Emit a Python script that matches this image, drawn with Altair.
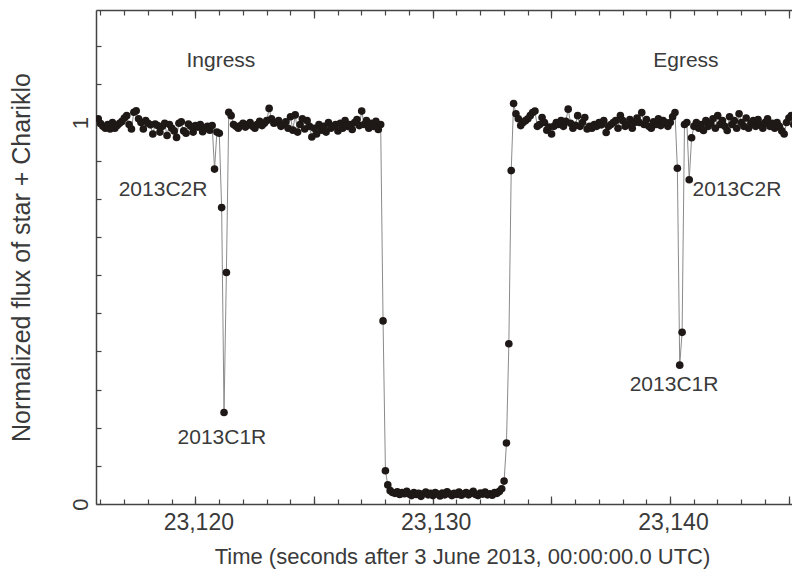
import altair as alt
import pandas as pd

# ---------------- data (10 Hz photometry) ----------------
T0 = 23115.91          # time of first sample (s after 3 June 2013 00:00:00 UTC)
DT = 0.1               # sampling interval (s)

flux_pre_ingress = [1.01, 0.997, 0.99, 0.985, 0.995, 0.983, 1.0, 0.985, 0.992, 0.998,
                    1.003, 1.012, 1.018, 0.995, 0.983, 1.027, 1.031, 1.01, 1.0, 0.983,
                    1.005, 0.998, 0.994, 0.97, 0.996, 0.992, 0.975, 0.99, 0.998, 0.966,
                    0.995, 0.985, 0.978, 0.961, 0.998, 1.002, 0.978, 0.972, 0.996, 0.99,
                    0.975, 0.992, 0.988, 0.995, 0.976, 0.985, 0.99, 0.98, 0.992]
flux_rings_ingress = [0.878, 0.975, 0.972, 0.777, 0.24, 0.607, 1.027, 1.018]
flux_between = [0.995, 0.99, 0.985, 0.992, 0.998, 0.988, 0.995, 1.0, 0.99, 0.985,
                0.995, 1.003, 0.992, 0.998, 1.005, 1.037, 1.01, 0.998, 1.0, 1.005,
                0.99, 0.995, 1.002, 0.985, 1.015, 0.98, 1.02, 0.975, 0.995, 1.01,
                0.983, 1.005, 0.99, 0.962, 0.985, 0.97, 0.995, 0.98, 0.99, 0.975,
                1.0, 0.985, 0.99, 0.995, 0.978, 0.998, 0.985, 1.005, 0.99, 0.995,
                0.982, 1.0, 1.008, 0.992, 1.03, 0.995, 1.005, 0.985, 0.998, 0.99,
                1.003, 0.982]
flux_body_ingress = [0.995, 0.48, 0.087]
flux_occulted = [0.05, 0.035, 0.03, 0.028, 0.032, 0.025, 0.03, 0.027, 0.033, 0.026,
                 0.022, 0.03, 0.025, 0.028, 0.02, 0.027, 0.031, 0.024, 0.028, 0.022,
                 0.03, 0.026, 0.021, 0.029, 0.024, 0.032, 0.027, 0.022, 0.028, 0.025,
                 0.031, 0.023, 0.027, 0.03, 0.024, 0.028, 0.033, 0.025, 0.022, 0.029,
                 0.026, 0.031, 0.024, 0.027, 0.023, 0.03, 0.028, 0.033, 0.04]
flux_body_egress = [0.06, 0.16, 0.42, 0.874, 1.05]
flux_post_egress = [1.023, 1.01, 0.992, 1.0, 1.005, 1.01, 1.018, 1.026, 1.03, 0.99,
                    0.995, 1.013, 1.0, 0.98, 0.988, 0.97, 0.99, 1.0, 0.995, 1.005,
                    0.99, 1.003, 1.035, 0.998, 0.985, 0.993, 1.018, 0.99, 1.0, 1.013,
                    0.983, 0.99, 0.985, 0.995, 0.99, 1.0, 0.994, 1.005, 0.974, 0.99,
                    0.995, 1.0, 1.005, 0.985, 1.018, 1.005, 0.99, 0.995, 1.008, 0.985,
                    1.0, 1.012, 1.0, 1.026, 0.995, 1.008, 0.99, 0.985, 1.002, 0.995,
                    1.01, 0.992, 1.005, 1.0, 0.99, 1.0, 1.015, 1.026]
flux_rings_egress = [0.88, 0.364, 0.45, 0.995, 1.0, 0.85, 0.96]
flux_after = [0.99, 1.0, 0.985, 0.995, 0.979, 1.005, 0.99, 0.998, 1.01, 0.985,
              1.018, 0.995, 1.005, 0.99, 0.979, 1.015, 0.995, 1.005, 0.985, 1.023,
              1.0, 0.99, 1.012, 0.985, 0.998, 1.005, 0.99, 1.008, 0.995, 0.985,
              1.0, 1.01, 0.99, 0.998, 0.985, 1.0, 0.99, 0.978, 0.97, 1.0,
              1.012, 1.018, 0.995, 1.005, 1.01]

flux = (flux_pre_ingress + flux_rings_ingress + flux_between + flux_body_ingress +
        flux_occulted + flux_body_egress + flux_post_egress + flux_rings_egress + flux_after)
time = [round(T0 + DT * i, 2) for i in range(len(flux))]

ann_text = ["Ingress", "Egress", "2013C2R", "2013C1R", "2013C2R", "2013C1R"]
ann_time = [23121.08, 23140.67, 23118.64, 23121.12, 23142.82, 23140.17]
ann_flux = [1.16, 1.16, 0.822, 0.174, 0.822, 0.311]

x_ticks_labelled = [23120, 23130, 23140]
x_ticks_major = [23120, 23125, 23130, 23135, 23140, 23145]
x_ticks_minor = list(range(23116, 23146))
y_ticks_labelled = [0, 1]
y_ticks_minor = [0, 0.1, 0.2, 0.3, 0.4, 0.5, 0.6, 0.7, 0.8, 0.9, 1.0, 1.1, 1.2]

X_DOMAIN = [23115.816, 23145.14]
Y_DOMAIN = [0, 1.295]

df = pd.DataFrame({"time": time, "flux": flux})
ann = pd.DataFrame({"text": ann_text, "time": ann_time, "flux": ann_flux})

# ---------------- chart ----------------
W, H = 696, 494
FONT = "Liberation Sans"
TXT = "#3a3a3a"
AX = "#444444"

xs = alt.Scale(domain=X_DOMAIN, nice=False, zero=False)
ys = alt.Scale(domain=Y_DOMAIN, nice=False, zero=False)

base = alt.Chart(df)

line = base.mark_line(color="#8a8a8a", strokeWidth=1, clip=True).encode(
    x=alt.X("time:Q", scale=xs, axis=alt.Axis(
        orient="bottom", values=x_ticks_labelled, labelExpr="format(datum.value, ',')",
        ticks=False, tickSize=0, labelOffset=3,
        labelPadding=7, labelFontSize=23, labelFont=FONT, labelColor=TXT,
        domainColor=AX, domainWidth=1.5, grid=False,
        title="Time (seconds after 3 June 2013, 00:00:00.0 UTC)",
        titleFont=FONT, titleFontSize=22, titleFontWeight="normal", titleColor=TXT,
        titleX=366, titleY=59, titleBaseline="alphabetic")),
    y=alt.Y("flux:Q", scale=ys, axis=alt.Axis(
        orient="left", values=y_ticks_labelled, labelExpr="format(datum.value, 'd')",
        ticks=False, tickSize=0,
        labelAngle=270, labelPadding=4, labelFontSize=22, labelFont=FONT, labelColor=TXT,
        domainColor=AX, domainWidth=1.5, grid=False,
        title="Normalized flux of star + Chariklo",
        titleFont=FONT, titleFontSize=25, titleFontWeight="normal", titleColor=TXT,
        titleX=-67, titleBaseline="alphabetic")),
)

points = base.mark_circle(size=58, color="#1e1916", opacity=1, clip=True).encode(
    x=alt.X("time:Q", scale=xs, axis=alt.Axis(
        orient="top", offset=-H, values=x_ticks_major, tickSize=8, tickColor=AX,
        tickWidth=1.2, labels=False, domain=False, grid=False, title="")),
    y=alt.Y("flux:Q", scale=ys, axis=alt.Axis(
        orient="right", offset=-W, values=y_ticks_minor, tickSize=5, tickColor=AX,
        tickWidth=1.2, labels=False, domain=False, grid=False, title="")),
)

minor_bottom = base.mark_point(opacity=0, clip=True).encode(
    x=alt.X("time:Q", scale=xs, axis=alt.Axis(
        orient="top", offset=-H, values=x_ticks_minor, tickSize=5, tickColor=AX,
        tickWidth=1.2, labels=False, domain=False, grid=False, title="")),
    y=alt.Y("flux:Q", scale=ys, axis=None),
)

top_major = base.mark_point(opacity=0, clip=True).encode(
    x=alt.X("time:Q", scale=xs, axis=alt.Axis(
        orient="bottom", offset=-H, values=x_ticks_major, tickSize=8, tickColor=AX,
        tickWidth=1.2, labels=False, domain=True, domainColor=AX, domainWidth=1.5,
        grid=False, title="")),
    y=alt.Y("flux:Q", scale=ys, axis=None),
)

top_minor = base.mark_point(opacity=0, clip=True).encode(
    x=alt.X("time:Q", scale=xs, axis=alt.Axis(
        orient="bottom", offset=-H, values=x_ticks_minor, tickSize=5, tickColor=AX,
        tickWidth=1.2, labels=False, domain=False, grid=False, title="")),
    y=alt.Y("flux:Q", scale=ys, axis=None),
)

labels = alt.Chart(ann).mark_text(font=FONT, fontSize=21, color=TXT, align="center",
                                  baseline="middle").encode(
    x=alt.X("time:Q", scale=xs, axis=None),
    y=alt.Y("flux:Q", scale=ys, axis=None),
    text="text:N",
)

chart = alt.layer(line, points, minor_bottom, top_major, top_minor, labels).resolve_axis(
    x="independent", y="independent"
).properties(
    width=W, height=H,
    autosize=alt.AutoSizeParams(type="none"),
    padding={"left": 88, "top": 2, "right": 0, "bottom": 66},
).configure_view(stroke=None).configure(background="white")

chart.save("out.html", embed_options={"renderer": "svg", "actions": False})
